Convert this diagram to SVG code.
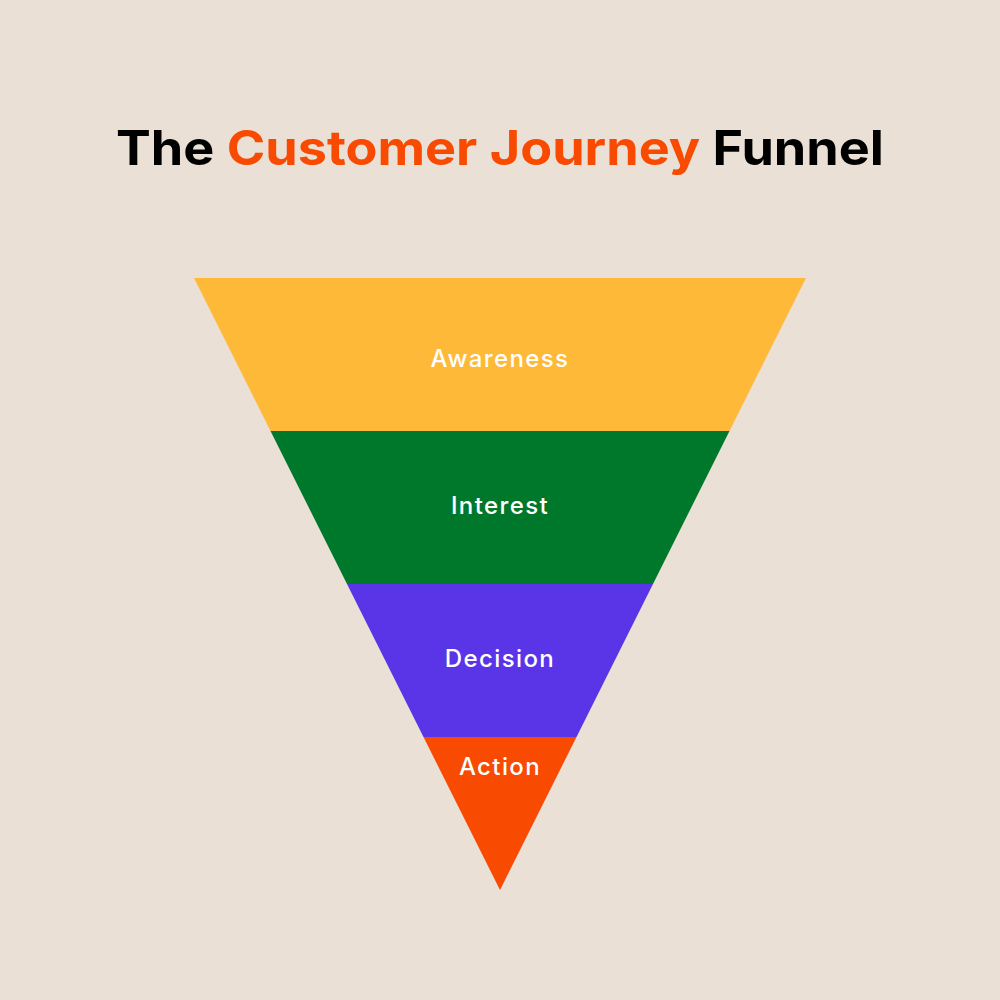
<svg xmlns="http://www.w3.org/2000/svg" width="1000" height="1000" viewBox="0 0 1000 1000">
<style>
.title{font-family:Inter,"Noto Sans",sans-serif;font-weight:700;font-size:48px;fill:#000}
.accent{fill:#F84A00}
.label{font-family:Inter,"Noto Sans",sans-serif;font-weight:500;font-size:24px;letter-spacing:1.4px;fill:#fff;text-anchor:middle}
</style>
<rect width="1000" height="1000" fill="#EAE0D5"/>
<text class="title" x="500" y="165" text-anchor="middle" textLength="768" lengthAdjust="spacingAndGlyphs">The <tspan class="accent">Customer Journey</tspan> Funnel</text>
<g id="awareness">
<polygon points="194,278 806,278 729.5,431 270.5,431" fill="#FFB938"/>
<text class="label" x="500" y="367">Awareness</text>
</g>
<g id="interest">
<polygon points="270.5,431 729.5,431 653,584 347,584" fill="#00782B"/>
<text class="label" x="500" y="514">Interest</text>
</g>
<g id="decision">
<polygon points="347,584 653,584 576.5,737 423.5,737" fill="#5A35E8"/>
<text class="label" x="500" y="667">Decision</text>
</g>
<g id="action">
<polygon points="423.5,737 576.5,737 500,890" fill="#F84A00"/>
<text class="label" x="500" y="775">Action</text>
</g>
<g id="connectors"/>
</svg>
